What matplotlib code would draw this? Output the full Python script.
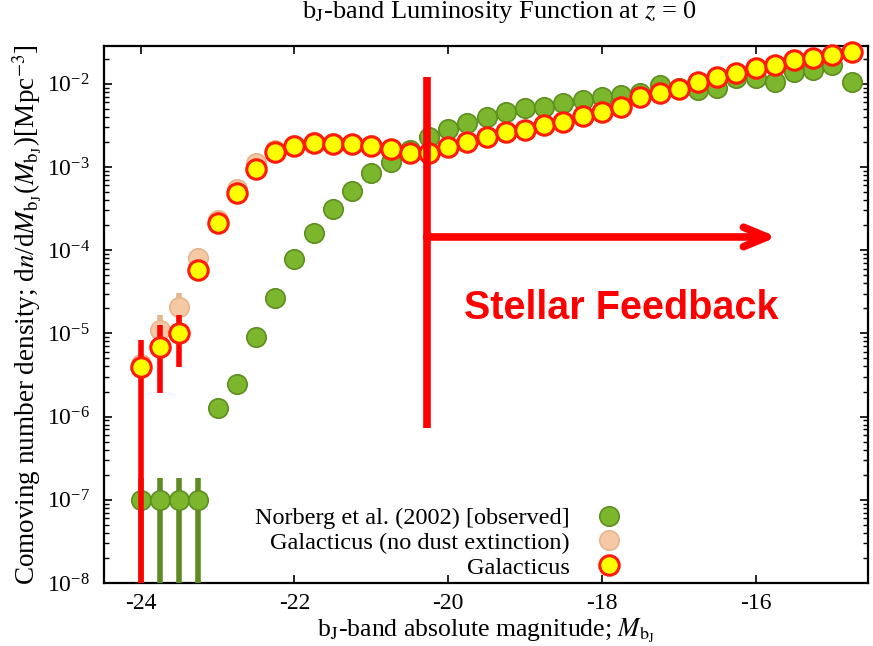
import numpy as np
import matplotlib
matplotlib.use("Agg")
import matplotlib.pyplot as plt

plt.rcParams['font.family'] = ['Liberation Serif', 'DejaVu Serif']
plt.rcParams['mathtext.fontset'] = 'stix'

# ---------------- data ----------------
mag = [-24.0 + 0.25 * i for i in range(38)]

galacticus = [3.94e-6, 6.9e-6, 1.01e-5, 5.8e-5, 2.12e-4, 4.9e-4, 9.5e-4, 1.51e-3,
              1.79e-3, 1.94e-3, 1.89e-3, 1.89e-3, 1.79e-3, 1.64e-3, 1.47e-3, 1.47e-3,
              1.74e-3, 2.02e-3, 2.30e-3, 2.64e-3, 2.79e-3, 3.2e-3, 3.48e-3, 4.1e-3,
              4.58e-3, 5.26e-3, 6.9e-3, 7.7e-3, 8.7e-3, 1.05e-2, 1.21e-2, 1.35e-2,
              1.55e-2, 1.68e-2, 1.93e-2, 2.04e-2, 2.22e-2, 2.41e-2]
galacticus_lo = [1e-9, 1.92e-6, 3.9e-6, 4.8e-5] + [None] * 34
galacticus_hi = [8.3e-6, 1.26e-5, 1.66e-5, 7.0e-5] + [None] * 34

nodust = [4.3e-6, 1.1e-5, 2.07e-5, 8.1e-5, 2.3e-4, 5.4e-4, 1.1e-3, 1.6e-3,
          1.85e-3, 1.98e-3, 1.92e-3, 1.91e-3, 1.81e-3, 1.66e-3, 1.49e-3, 1.49e-3,
          1.76e-3, 2.04e-3, 2.32e-3, 2.66e-3, 2.81e-3, 3.22e-3, 3.5e-3, 4.12e-3,
          4.6e-3, 5.3e-3, 6.95e-3, 7.75e-3, 8.75e-3, 1.06e-2, 1.22e-2, 1.36e-2,
          1.56e-2, 1.69e-2, 1.94e-2, 2.05e-2, 2.23e-2, 2.42e-2]
nodust_lo = [None, 7.0e-6, 1.4e-5, 7.0e-5] + [None] * 34
nodust_hi = [None, 1.66e-5, 3.06e-5, 9.3e-5] + [None] * 34

norberg_mag = mag
norberg = [1e-7, 1e-7, 1e-7, 1e-7, 1.27e-6, 2.47e-6, 9.06e-6, 2.66e-5,
           7.83e-5, 1.61e-4, 3.13e-4, 5.15e-4, 8.47e-4, 1.15e-3, 1.6e-3, 2.3e-3,
           2.86e-3, 3.38e-3, 3.99e-3, 4.58e-3, 5.1e-3, 5.26e-3, 5.87e-3, 6.38e-3,
           6.9e-3, 7.3e-3, 7.8e-3, 9.7e-3, 8.9e-3, 8.4e-3, 8.9e-3, 1.17e-2,
           1.17e-2, 1.05e-2, 1.39e-2, 1.47e-2, 1.68e-2, 1.05e-2]
norberg_lo = [1e-9, 1e-9, 1e-9, 1e-9, 1.05e-6] + [None] * 32 + [8.6e-3]
norberg_hi = [1.83e-7, 1.83e-7, 1.83e-7, 1.83e-7, 1.5e-6] + [None] * 32 + [1.2e-2]

legend_labels = ["Norberg et al. (2002) [observed]",
                 "Galacticus (no dust extinction)",
                 "Galacticus"]
xticks = [-24, -22, -20, -18, -16]
xticklabels = ["-24", "-22", "-20", "-18", "-16"]

# annotation (data coordinates)
feedback_mag = -20.28
feedback_top = 1.21e-2
feedback_bottom = 7.3e-7
arrow_y = 1.44e-4
arrow_end = -15.72
annot_text = "Stellar Feedback"
annot_x = -17.75
annot_y = 10 ** -4.7


def yerr(vals, lo, hi):
    e_lo, e_hi = [], []
    for v, l, h in zip(vals, lo, hi):
        e_lo.append(0 if l is None else v - l)
        e_hi.append(0 if h is None else h - v)
    return [e_lo, e_hi]


green_face = "#7cb62d"
green_edge = "#5d8e1f"
green_bar = "#5e8a22"
tan_face = "#f6c9a6"
tan_edge = "#e6b58e"

fig = plt.figure(figsize=(8.73, 6.46), dpi=100)
ax = fig.add_axes([0.119, 0.0975, 0.875, 0.8315])

ms = 14
eb1 = ax.errorbar(norberg_mag, norberg, yerr=yerr(norberg, norberg_lo, norberg_hi),
                  fmt='o', ms=ms, mfc=green_face, mec=green_edge, mew=1.2,
                  ecolor=green_bar, elinewidth=4, capsize=0, zorder=3)
eb2 = ax.errorbar(mag, nodust, yerr=yerr(nodust, nodust_lo, nodust_hi),
                  fmt='o', ms=ms, mfc=tan_face, mec=tan_edge, mew=1.2,
                  ecolor=tan_edge, elinewidth=4, capsize=0, zorder=4)
eb3 = ax.errorbar(mag, galacticus, yerr=yerr(galacticus, galacticus_lo, galacticus_hi),
                  fmt='o', ms=ms, mfc="#ffff00", mec="#ff1a00", mew=2.2,
                  ecolor="#ff0000", elinewidth=4, capsize=0, zorder=5)
for eb in (eb1, eb2, eb3):
    eb[0].set_clip_on(False)

ax.set_yscale('log')
ax.set_xlim(-24.48, -14.54)
ax.set_ylim(1e-8, 2.85e-2)
ax.set_xticks(xticks)
ax.set_xticklabels(xticklabels)
ax.yaxis.set_minor_locator(matplotlib.ticker.LogLocator(base=10, subs=np.arange(2, 10)))
ax.yaxis.set_minor_formatter(matplotlib.ticker.NullFormatter())
ax.xaxis.set_minor_locator(matplotlib.ticker.NullLocator())
ax.tick_params(which='both', direction='in', top=True, right=True, labelsize=17)
ax.tick_params(axis='x', which='major', pad=7)
ax.tick_params(axis='y', which='major', pad=10)
ax.tick_params(which='major', length=6, width=1.2)
ax.tick_params(which='minor', length=3.5, width=1)
for s in ax.spines.values():
    s.set_linewidth(1.6)

ax.set_xlabel(r"b$_{\rm J}$-band absolute magnitude; $M_{\rm b_J}$", fontsize=18.5, labelpad=2)
ax.set_ylabel(r"Comoving number density; d$n$/d$M_{\rm b_J}$($M_{\rm b_J}$)[Mpc$^{-3}$]",
              fontsize=19.5, labelpad=2)
fig.text(0.572, 1 - 18 / 646, r"b$_{\rm J}$-band Luminosity Function at $z$ = 0",
         ha='center', va='baseline', fontsize=19)

# legend
h1 = ax.plot([], [], 'o', ms=ms, mfc=green_face, mec=green_edge, mew=1.2)[0]
h2 = ax.plot([], [], 'o', ms=ms, mfc=tan_face, mec=tan_edge, mew=1.2)[0]
h3 = ax.plot([], [], 'o', ms=ms, mfc="#ffff00", mec="#ff1a00", mew=2.2)[0]
ax.legend([h1, h2, h3], legend_labels, loc='lower right', bbox_to_anchor=(0.7, -0.024),
          frameon=False, markerfirst=False, fontsize=17.5, handlelength=1.0,
          handletextpad=1.14, labelspacing=0.12, borderaxespad=0.3)

# annotation
ax.plot([feedback_mag, feedback_mag], [feedback_bottom, feedback_top], color='#ff0000',
        lw=5.5, solid_capstyle='butt', zorder=6)
ax.annotate("", xy=(arrow_end, arrow_y), xytext=(feedback_mag, arrow_y),
            arrowprops=dict(arrowstyle='->,head_length=1.7,head_width=0.7',
                            color='#ff0000', lw=5.5, shrinkA=0, shrinkB=0), zorder=6)
ax.text(annot_x, annot_y, annot_text, color='#ff0000', fontsize=28.5, fontweight='bold',
        family=['Liberation Sans', 'DejaVu Sans'], ha='center', va='center', zorder=6)

fig.savefig("out.png", dpi=100)
